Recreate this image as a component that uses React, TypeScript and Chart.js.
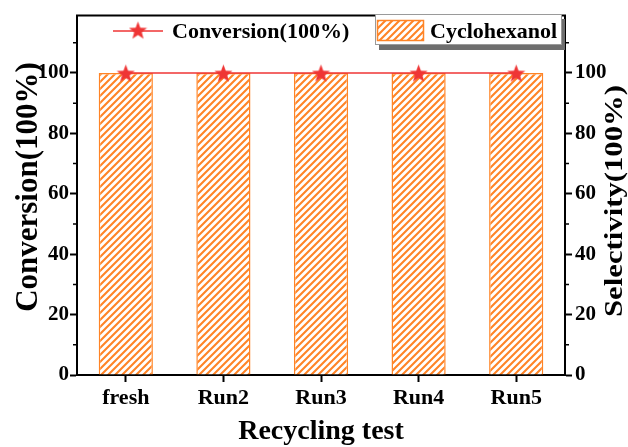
import React, { useEffect, useRef } from 'react';
import { Chart, registerables } from 'chart.js';
Chart.register(...registerables);

const categories = ['fresh', 'Run2', 'Run3', 'Run4', 'Run5'];
const conversion = [100, 100, 100, 100, 100];
const selectivity = [100, 100, 100, 100, 100];
const yMinorTicks = [10, 30, 50, 70, 90, 110];
const conversionLabel = 'Conversion(100%)';
const selectivityLabel = 'Cyclohexanol';
const xTitle = 'Recycling test';
const yLeftTitle = 'Conversion(100%)';
const yRightTitle = 'Selectivity(100%)';

const ORANGE = '#ff8426';
const RED = '#ef3535';
const FONT = "'Liberation Serif', 'Times New Roman', serif";

function makeHatchCanvas() {
  const s = 7;
  const c = document.createElement('canvas');
  c.width = s;
  c.height = s;
  const g = c.getContext('2d')!;
  g.fillStyle = '#fff';
  g.fillRect(0, 0, s, s);
  g.strokeStyle = ORANGE;
  g.lineWidth = 2.1;
  g.beginPath();
  g.moveTo(-1, s + 1);
  g.lineTo(s + 1, -1);
  g.moveTo(-s / 2 - 1, s / 2 + 1);
  g.lineTo(s / 2 + 1, -s / 2 - 1);
  g.moveTo(s / 2 - 1, s * 1.5 + 1);
  g.lineTo(s * 1.5 + 1, s / 2 - 1);
  g.stroke();
  return c;
}

function makeStar(size: number) {
  const c = document.createElement('canvas');
  c.width = size;
  c.height = size;
  const g = c.getContext('2d')!;
  const cx = size / 2;
  const cy = size / 2 + 1;
  const R = size / 2;
  const r = R * 0.42;
  g.beginPath();
  for (let i = 0; i < 10; i++) {
    const a = -Math.PI / 2 + (i * Math.PI) / 5;
    const rad = i % 2 ? r : R;
    g.lineTo(cx + rad * Math.cos(a), cy + rad * Math.sin(a));
  }
  g.closePath();
  g.fillStyle = RED;
  g.fill();
  return c;
}

export default function App() {
  const ref = useRef<HTMLCanvasElement | null>(null);

  useEffect(() => {
    const canvas = ref.current!;
    const ctx0 = canvas.getContext('2d')!;
    const hatch = ctx0.createPattern(makeHatchCanvas(), 'repeat')!;
    const star = makeStar(19);

    const tickFont = { family: FONT, size: 21, weight: 'bold' as const };

    const framePlugin = {
      id: 'frame',
      afterDraw(chart: any) {
        const ctx = chart.ctx;
        const a = chart.chartArea;
        ctx.save();
        ctx.strokeStyle = '#000';
        ctx.lineWidth = 2;
        ctx.beginPath();
        ctx.moveTo(a.left - 1, a.top);
        ctx.lineTo(a.right + 1, a.top);
        ctx.stroke();

        const yl = chart.scales.y;
        const yr = chart.scales.y1;
        ctx.lineWidth = 1.5;
        ctx.beginPath();
        for (const v of yMinorTicks) {
          const py = yl.getPixelForValue(v);
          ctx.moveTo(a.left - 4, py);
          ctx.lineTo(a.left, py);
          const pr = yr.getPixelForValue(v);
          ctx.moveTo(a.right, pr);
          ctx.lineTo(a.right + 4, pr);
        }
        ctx.stroke();

        ctx.fillStyle = '#000';
        ctx.textAlign = 'center';
        ctx.textBaseline = 'middle';
        ctx.font = `bold 28px ${FONT}`;
        ctx.fillText(xTitle, (a.left + a.right) / 2, 432);

        ctx.save();
        ctx.translate(29, 187);
        ctx.rotate(-Math.PI / 2);
        ctx.font = `bold 31px ${FONT}`;
        ctx.fillText(yLeftTitle, 0, 0);
        ctx.restore();

        ctx.save();
        ctx.translate(616, 201);
        ctx.rotate(-Math.PI / 2);
        ctx.font = `bold 25px ${FONT}`;
        const w = ctx.measureText(yRightTitle).width;
        ctx.scale(232 / w, 1);
        ctx.fillText(yRightTitle, 0, 0);
        ctx.restore();

        ctx.textAlign = 'left';
        ctx.font = `bold 22px ${FONT}`;
        ctx.strokeStyle = RED;
        ctx.lineWidth = 1.5;
        ctx.beginPath();
        ctx.moveTo(113, 31);
        ctx.lineTo(163, 31);
        ctx.stroke();
        ctx.drawImage(star, 138 - 9.5, 31 - 10.5);
        ctx.fillStyle = '#000';
        ctx.fillText(chart.data.datasets[0].label, 172, 32);

        ctx.fillStyle = '#6e6e6e';
        ctx.fillRect(379, 19, 186, 31);
        ctx.fillStyle = '#fff';
        ctx.fillRect(375, 14, 187, 31);
        ctx.strokeStyle = '#9a9a9a';
        ctx.lineWidth = 1;
        ctx.strokeRect(375.5, 14.5, 186, 30);
        ctx.fillStyle = hatch;
        ctx.fillRect(377, 20, 47, 21);
        ctx.strokeStyle = ORANGE;
        ctx.lineWidth = 1.5;
        ctx.strokeRect(377.5, 20.5, 46, 20);
        ctx.fillStyle = '#000';
        ctx.fillText(chart.data.datasets[1].label, 430, 32);
        ctx.restore();
      },
    };

    const yCommon = {
      min: 0,
      max: 119,
      ticks: {
        stepSize: 20,
        includeBounds: false,
        color: '#000',
        font: tickFont,
        padding: 1,
      },
      grid: {
        drawOnChartArea: false,
        drawTicks: true,
        tickLength: 7,
        tickWidth: 2,
        tickColor: '#000',
      },
      border: { display: true, color: '#000', width: 2 },
    };

    const chart = new Chart(canvas, {
      data: {
        labels: categories,
        datasets: [
          {
            type: 'line',
            label: conversionLabel,
            data: conversion,
            yAxisID: 'y',
            borderColor: RED,
            backgroundColor: RED,
            borderWidth: 1.5,
            pointStyle: star,
            pointRadius: 9,
            order: 0,
          },
          {
            type: 'bar',
            label: selectivityLabel,
            data: selectivity,
            yAxisID: 'y1',
            backgroundColor: hatch,
            borderColor: ORANGE,
            borderWidth: 1.5,
            barPercentage: 0.555,
            categoryPercentage: 1,
            order: 1,
          },
        ],
      } as any,
      options: {
        responsive: false,
        animation: false,
        layout: { padding: { top: 13, left: 0, right: 0, bottom: 0 } },
        plugins: { legend: { display: false }, tooltip: { enabled: false } },
        scales: {
          x: {
            offset: true,
            grid: {
              offset: false,
              drawOnChartArea: false,
              drawTicks: true,
              tickLength: 7,
              tickWidth: 2,
              tickColor: '#000',
            },
            border: { display: true, color: '#000', width: 2 },
            ticks: { color: '#000', font: { family: FONT, size: 22, weight: 'bold' }, padding: 3 },
            afterFit: (s: any) => {
              s.height = 72;
            },
          },
          y: {
            position: 'left',
            ...yCommon,
            afterFit: (s: any) => {
              s.width = 77;
            },
          },
          y1: {
            position: 'right',
            ...yCommon,
            ticks: { ...yCommon.ticks, padding: 3 },
            afterFit: (s: any) => {
              s.width = 63;
            },
          },
        },
      } as any,
      plugins: [framePlugin],
    });
    return () => chart.destroy();
  }, []);

  return (
    <div style={{ position: 'absolute', left: 0, top: 0, width: 628, height: 447, background: '#fff' }}>
      <canvas ref={ref} width={628} height={447} style={{ display: 'block' }} />
    </div>
  );
}
